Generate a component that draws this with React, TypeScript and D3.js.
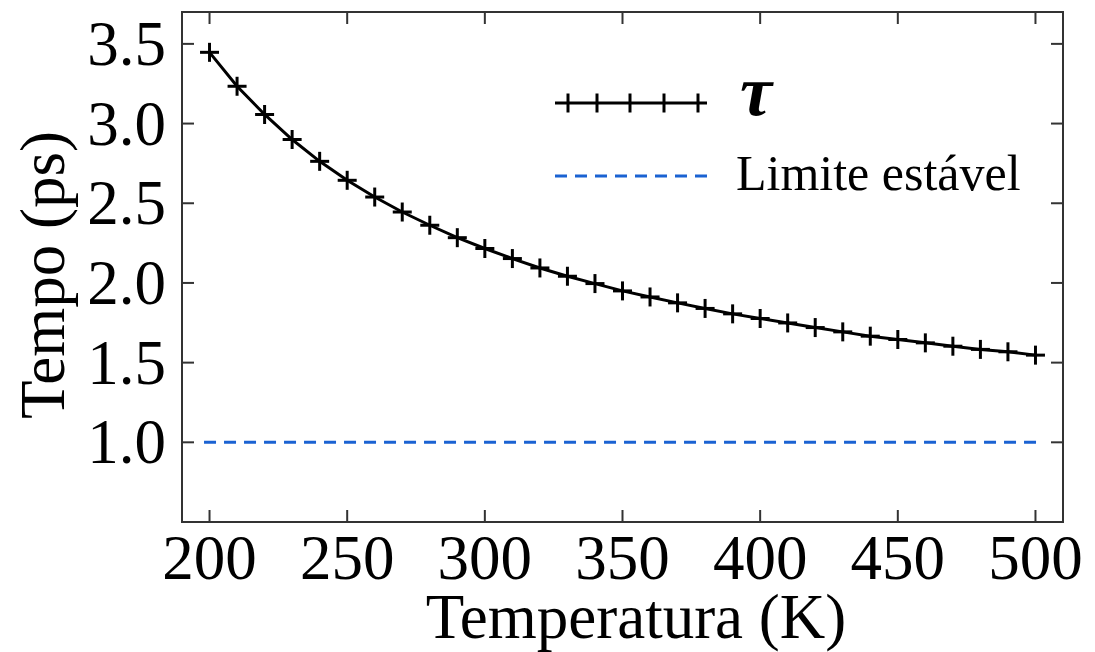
import * as d3 from "d3";

// temperaturas (K) e tempo de relaxação tau (ps)
const temperatures = [
  200, 210, 220, 230, 240, 250, 260, 270, 280, 290, 300, 310, 320, 330, 340, 350,
  360, 370, 380, 390, 400, 410, 420, 430, 440, 450, 460, 470, 480, 490, 500,
];
const tau = [
  3.447, 3.234, 3.057, 2.9, 2.763, 2.644, 2.539, 2.445, 2.362, 2.284, 2.216, 2.153,
  2.094, 2.042, 1.996, 1.95, 1.912, 1.875, 1.84, 1.806, 1.777, 1.749, 1.72, 1.693,
  1.666, 1.645, 1.624, 1.603, 1.583, 1.568, 1.547,
];
const stableLimit = 1.0;
const limitSpan = [198, 502];

const xTicks = [200, 250, 300, 350, 400, 450, 500];
const yTicks = [1.0, 1.5, 2.0, 2.5, 3.0, 3.5];

const legendLabels = ["τ", "Limite estável"];

const width = 1095;
const height = 652;
const marginLeft = 182;
const marginRight = 32;
const marginTop = 12;
const marginBottom = 130;
const font = "'Liberation Serif', 'Times New Roman', Times, serif";
const blue = "#1a62d2";

export default function App() {
  const x = d3.scaleLinear().domain([190, 510]).range([marginLeft, width - marginRight]);
  const y = d3.scaleLinear().domain([0.5, 3.7]).range([height - marginBottom, marginTop]);

  const points = temperatures.map((t, i) => [t, tau[i]] as [number, number]);
  const line = d3.line<[number, number]>().x(d => x(d[0])).y(d => y(d[1]));

  const x0 = marginLeft, x1 = width - marginRight;
  const y0 = height - marginBottom, y1 = marginTop;
  const tick = 12;
  const plus = 9.5;

  // legenda
  const lx0 = 555, lx1 = 707;
  const legendMarks = [568, 597, 630, 664, 698];

  const txt = { fontFamily: font, fontSize: 63 };

  return (
    <svg width={width} height={height} style={{ position: "absolute", left: 0, top: 0, background: "#fff" }}>
      {/* linha limite */}
      <line
        x1={x(limitSpan[0])} x2={x(limitSpan[1])}
        y1={y(stableLimit)} y2={y(stableLimit)}
        stroke={blue} strokeWidth={3} strokeDasharray="12,8"
      />

      {/* curva tau */}
      <path d={line(points) ?? ""} fill="none" stroke="#000" strokeWidth={3} />
      <g stroke="#000" strokeWidth={3}>
        {points.map((d, i) => (
          <g key={i} transform={`translate(${x(d[0])},${y(d[1])})`}>
            <line x1={-plus} x2={plus} y1={0} y2={0} />
            <line x1={0} x2={0} y1={-plus} y2={plus} />
          </g>
        ))}
      </g>

      {/* moldura e ticks */}
      <rect x={x0} y={y1} width={x1 - x0} height={y0 - y1} fill="none" stroke="#333" strokeWidth={2} />
      <g stroke="#333" strokeWidth={2}>
        {xTicks.map(t => (
          <g key={t}>
            <line x1={x(t)} x2={x(t)} y1={y0} y2={y0 - tick} />
            <line x1={x(t)} x2={x(t)} y1={y1} y2={y1 + tick} />
          </g>
        ))}
        {yTicks.map(t => (
          <g key={t}>
            <line x1={x0} x2={x0 + tick} y1={y(t)} y2={y(t)} />
            <line x1={x1} x2={x1 - tick} y1={y(t)} y2={y(t)} />
          </g>
        ))}
      </g>

      {xTicks.map(t => (
        <text key={t} x={x(t)} y={y0 + 57} textAnchor="middle" style={txt}>{t}</text>
      ))}
      {yTicks.map(t => (
        <text key={t} x={x0 - 16} y={y(t) + 21} textAnchor="end" style={txt}>{t.toFixed(1)}</text>
      ))}
      <text x={636} y={y0 + 116} textAnchor="middle" style={txt}>Temperatura (K)</text>
      <text transform={`translate(64,275) rotate(-90)`} textAnchor="middle" style={txt}>Tempo (ps)</text>

      {/* legenda */}
      <line x1={lx0} x2={lx1} y1={103} y2={103} stroke="#000" strokeWidth={3} />
      <g stroke="#000" strokeWidth={3}>
        {legendMarks.map((m, i) => (
          <line key={i} x1={m} x2={m} y1={103 - plus} y2={103 + plus} />
        ))}
      </g>
      <text x={740} y={115} style={{ fontFamily: font, fontSize: 72, fontWeight: "bold", fontStyle: "italic" }}>{legendLabels[0]}</text>
      <line x1={lx0} x2={lx1} y1={176} y2={176} stroke={blue} strokeWidth={3} strokeDasharray="12,8" />
      <text x={736} y={190} style={{ fontFamily: font, fontSize: 50 }}>{legendLabels[1]}</text>
    </svg>
  );
}
